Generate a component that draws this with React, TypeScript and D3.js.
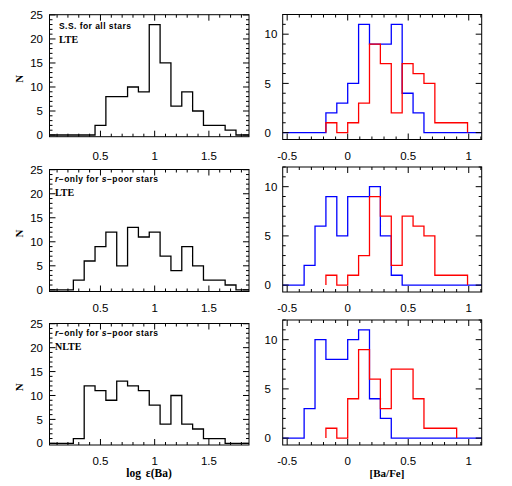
import React from 'react';
import * as d3 from 'd3';

// left column: log eps(Ba), bins 0.1 wide, first bin centred on 0.0
const logEpsStart = -0.05;
const logEpsWidth = 0.1;
const ssAllLTE = [0, 0, 0, 0, 0, 2, 8, 8, 10, 9, 23, 15, 6, 9, 5, 2, 2, 1, 0, 0];
const rOnlyLTE = [0, 0, 0, 2, 6, 9, 12, 5, 13, 11, 12, 7, 4, 9, 5, 2, 2, 1, 0, 0];
const rOnlyNLTE = [0, 0, 0, 1, 12, 11, 9, 13, 12, 11, 8, 4, 10, 4, 3, 1, 1, 0, 0, 0];

// right column: [Ba/Fe], bins 0.09 wide
const baFeWidth = 0.09;
const blueStart = -0.54;
const blueTop = [0, 0, 0, 0, 2, 3, 5, 11, 9, 9, 11, 4, 2, 0, 0, 0, 0, 0, 0];
const blueMid = [0, 0, 2, 6, 9, 5, 9, 9, 10, 5, 1, 0, 0, 0, 0, 0, 0, 0, 0];
const blueBot = [0, 0, 3, 10, 8, 8, 10, 11, 4, 2, 0, 0, 0, 0, 0, 0, 0, 0, 0];
const redStart = -0.18;
const redSS = [1, 0, 1, 3, 9, 7, 2, 7, 6, 5, 1, 1, 1];
const redBot = [1, 0, 4, 9, 6, 3, 7, 7, 4, 1, 1, 1];

const leftXTicks = [0.5, 1, 1.5];
const rightXTicks = [-0.5, 0, 0.5, 1];
const leftYTicks = [0, 5, 10, 15, 20, 25];
const rightYTicks = [0, 5, 10];

const labels = [
  { top: 'S.S. for all stars', bottom: 'LTE' },
  { top: 'r-only', bottom: 'LTE' },
  { top: 'r-only', bottom: 'NLTE' },
];

const rows = [
  { lTop: 14.7, lBot: 136.7, rTop: 14.5, rBot: 139.5, left: ssAllLTE, blue: blueTop, red: redSS },
  { lTop: 169.5, lBot: 291.5, rTop: 167, rBot: 292, left: rOnlyLTE, blue: blueMid, red: redSS },
  { lTop: 323.5, lBot: 445, rTop: 320, rBot: 445, left: rOnlyNLTE, blue: blueBot, red: redBot },
];

const LX0 = 49.5, LX1 = 249;
const RX0 = 282.7, RX1 = 481.7;

function stepPath(x, y, start: number, width: number, counts: number[], ext?: [number, number]) {
  const p = d3.path();
  if (ext) {
    p.moveTo(x(ext[0]), y(0));
    p.lineTo(x(start), y(0));
  } else {
    p.moveTo(x(start), y(0));
  }
  counts.forEach((c, i) => {
    const a = start + i * width;
    p.lineTo(x(a), y(c));
    p.lineTo(x(a + width), y(c));
  });
  const end = start + counts.length * width;
  p.lineTo(x(end), y(0));
  if (ext) p.lineTo(x(ext[1]), y(0));
  return p.toString();
}

function Frame({ x, y, xMinor, yMinor, xMajor, yMajor }) {
  const [x0, x1] = x.range();
  const [y0, y1] = y.range(); // y0 bottom, y1 top
  const els: React.ReactNode[] = [];
  xMinor.forEach((v, i) => {
    const big = xMajor.some(m => Math.abs(m - v) < 1e-6);
    const len = big ? 6 : 3;
    const px = x(v);
    els.push(<line key={'xb' + i} x1={px} x2={px} y1={y0} y2={y0 - len} />);
    els.push(<line key={'xt' + i} x1={px} x2={px} y1={y1} y2={y1 + len} />);
  });
  yMinor.forEach((v, i) => {
    const big = yMajor.some(m => Math.abs(m - v) < 1e-6);
    const len = big ? 6 : 3;
    const py = y(v);
    els.push(<line key={'yl' + i} x1={x0} x2={x0 + len} y1={py} y2={py} />);
    els.push(<line key={'yr' + i} x1={x1} x2={x1 - len} y1={py} y2={py} />);
  });
  return (
    <g stroke="#000" strokeWidth={1} fill="none">
      <rect x={x0} y={y1} width={x1 - x0} height={y0 - y1} />
      {els}
    </g>
  );
}

export default function App() {
  const tickFont = { fontFamily: 'Liberation Sans, Arial, sans-serif', fontSize: 11.5 };
  const annFont = { fontFamily: 'Liberation Sans, Arial, sans-serif', fontSize: 8.5, fontWeight: 700, letterSpacing: 0.45 };
  const serifBold = { fontFamily: 'Liberation Serif, Times New Roman, serif', fontWeight: 700 };

  const leftMinorX = d3.range(1, 19).map(i => i / 10);
  const rightMinorX = d3.range(-5, 12).map(i => i / 10);
  const leftMinorY = d3.range(0, 26);
  const rightMinorY = d3.range(0, 13);

  return (
    <svg width={512} height={486} style={{ position: 'absolute', left: 0, top: 0, background: '#fff' }}>
      <defs>
        {rows.map((r, i) => (
          <React.Fragment key={i}>
            <clipPath id={'cl' + i}><rect x={LX0} y={r.lTop} width={LX1 - LX0} height={r.lBot - r.lTop} /></clipPath>
            <clipPath id={'cr' + i}><rect x={RX0} y={r.rTop} width={RX1 - RX0} height={r.rBot - r.rTop} /></clipPath>
          </React.Fragment>
        ))}
      </defs>
      {rows.map((r, i) => {
        const xl = d3.scaleLinear().domain([0.03, 1.87]).range([LX0, LX1]);
        const yl = d3.scaleLinear().domain([-0.35, 25.05]).range([r.lBot, r.lTop]);
        const xr = d3.scaleLinear().domain([-0.537, 1.107]).range([RX0, RX1]);
        const yr = d3.scaleLinear().domain([-0.7, 12]).range([r.rBot, r.rTop]);
        const labY = r.rBot + 20;
        return (
          <g key={i}>
            <g clipPath={`url(#cl${i})`}>
              <path d={stepPath(xl, yl, logEpsStart, logEpsWidth, r.left, [0.03, 1.87])} fill="none" stroke="#000" strokeWidth={1.3} />
            </g>
            <g clipPath={`url(#cr${i})`}>
              <path d={stepPath(xr, yr, blueStart, baFeWidth, r.blue, [-0.537, 1.107])} fill="none" stroke="#0000ff" strokeWidth={1.3} />
              <path d={stepPath(xr, yr, redStart, baFeWidth, r.red)} fill="none" stroke="#ff0000" strokeWidth={1.3} />
            </g>
            <Frame x={xl} y={yl} xMinor={leftMinorX} yMinor={leftMinorY} xMajor={leftXTicks} yMajor={leftYTicks} />
            <Frame x={xr} y={yr} xMinor={rightMinorX} yMinor={rightMinorY} xMajor={rightXTicks} yMajor={rightYTicks} />
            {leftYTicks.map(t => (
              <text key={'ly' + t} x={43} y={yl(t)} dy="0.36em" textAnchor="end" {...tickFont}>{t}</text>
            ))}
            {rightYTicks.map(t => (
              <text key={'ry' + t} x={264.5} y={yr(t)} dy="0.36em" textAnchor="start" {...tickFont}>{t}</text>
            ))}
            {leftXTicks.map(t => (
              <text key={'lx' + t} x={xl(t)} y={labY} textAnchor="middle" {...tickFont}>{t}</text>
            ))}
            {rightXTicks.map(t => (
              <text key={'rx' + t} x={xr(t)} y={labY} textAnchor="middle" {...tickFont}>{t}</text>
            ))}
            <text transform={`translate(23,${(r.lTop + r.lBot) / 2 + 3}) rotate(-90)`} textAnchor="middle" fontSize={11} {...serifBold}>N</text>
            {i === 0 ? (
              <text x={59} y={r.lTop + 14} {...annFont}>{labels[i].top}</text>
            ) : (
              <text x={55} y={r.lTop + 12} {...annFont}>
                <tspan fontStyle="italic">r</tspan>{'\u2212only for '}<tspan fontStyle="italic">s</tspan>{'\u2212poor stars'}
              </text>
            )}
            <text x={i === 0 ? 59 : 55} y={r.lTop + (i === 0 ? 28 : 26)} fontSize={10} {...serifBold}>{labels[i].bottom}</text>
          </g>
        );
      })}
      <text x={149} y={477} textAnchor="middle" fontSize={11.5} wordSpacing={2} {...serifBold}>log {'\u03b5'}(Ba)</text>
      <text x={387} y={477} textAnchor="middle" fontSize={11} {...serifBold}>[Ba/Fe]</text>
    </svg>
  );
}
